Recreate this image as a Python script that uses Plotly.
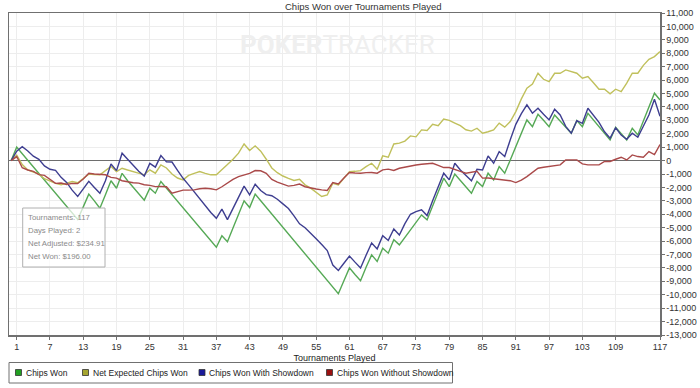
import plotly.graph_objects as go

tournaments = list(range(0, 118))

chips_won = [0, 1000, 510, 20, -470, -960, -1450, -1940, -2430, -2920, -3410, -3900, -4390, -3450, -2500,
             -3000, -3550, -2550, -1500, -2060, -950, -1500, -1990, -2480, -2950, -2060, -2430, -1560,
             -2050, -2540, -3030, -3520, -4010, -4500, -4990, -5480, -5970, -6460, -5600, -6050, -5030,
             -4020, -3000, -3500, -2500, -2995, -3490, -3985, -4480, -4975, -5470, -5965, -6460, -6955,
             -7450, -7945, -8440, -8935, -9430, -9925, -8950, -8000, -8490, -8950, -7950, -7030, -7520,
             -6530, -6900, -5900, -6280, -5700, -5160, -4620, -4050, -4420, -3380, -2350, -1310, -1940,
             -1000, -1490, -1980, -2430, -1560, -1940, -940, -1440, -450, -940, 50, 1050, 2050, 3030,
             2530, 3460, 3000, 2530, 3400, 2950, 2500, 2040, 2980, 2530, 3530, 3030, 2530, 2040, 1540,
             2490, 2010, 1540, 2410, 1910, 2950, 4000, 5020, 4520]

net_expected = [0, 400, -300, -700, -850, -1000, -1350, -1550, -1700, -1810, -1700, -1560, -1650, -1350,
                -1010, -1050, -1060, -750, -440, -820, -570, -700, -820, -950, -1060, -690, -940, -320,
                -550, -1000, -1300, -1440, -1100, -950, -820, -950, -1060, -1060, -700, -300, 100, 550,
                1240, 750, 1100, 700, 100, -550, -900, -1150, -1330, -1480, -1400, -1810, -2050, -2350,
                -2680, -2560, -1690, -1810, -1300, -820, -800, -750, -450, -200, -640, 350, 250, 1240,
                1300, 1450, 1840, 1770, 2290, 2250, 2700, 2600, 3100, 3000, 2800, 2600, 2300, 2200, 2410,
                2040, 2150, 2290, 2790, 2490, 2910, 3650, 4600, 5400, 5700, 6510, 6060, 5890, 6510, 6510,
                6760, 6630, 6510, 6140, 6260, 5800, 5320, 5320, 4970, 5320, 5140, 5770, 6510, 6510, 7100,
                7550, 7750, 8120]

with_showdown = [0, 700, 1040, 720, 330, 90, -400, -650, -730, -1250, -1630, -2200, -2670, -2070, -1550,
                 -2000, -2430, -1500, -250, -750, 550, 100, -340, -800, -1150, -210, -490, 370, -100,
                 -110, -730, -1320, -1810, -2320, -2890, -3420, -3870, -4300, -3620, -4400, -3550, -2700,
                 -1900, -2550, -1760, -2235, -2540, -2620, -2880, -3225, -3570, -4115, -4710, -5005,
                 -5390, -5825, -6260, -6705, -7790, -8185, -7650, -7110, -7570, -8010, -7050, -6140,
                 -6580, -5600, -5950, -5100, -5550, -4700, -4000, -3800, -3670, -4100, -3000, -1950,
                 -940, -1440, -200, -700, -1100, -1500, -650, -700, 350, -200, 670, 300, 1550, 2700,
                 3500, 4150, 3530, 3900, 3450, 3030, 3830, 3400, 2550, 2040, 2980, 2780, 3900, 3350,
                 2850, 2150, 1670, 2450, 1900, 1590, 2040, 1740, 2600, 3400, 4570, 3300]

without_showdown = [0, 300, -530, -700, -800, -1050, -1100, -1400, -1700, -1670, -1780, -1700, -1720,
                    -1380, -950, -1000, -1010, -1060, -1250, -1310, -1500, -1600, -1650, -1680, -1800,
                    -1850, -1940, -1930, -1950, -2430, -2300, -2200, -2200, -2180, -2100, -2060, -2100,
                    -2180, -1950, -1650, -1400, -1190, -1050, -950, -740, -760, -950, -1400, -1600,
                    -1750, -1900, -1850, -1750, -1950, -2060, -2120, -2180, -2230, -1640, -1740, -1300,
                    -890, -920, -940, -900, -890, -940, -690, -640, -740, -570, -480, -390, -330, -270,
                    -240, -200, -350, -520, -520, -690, -800, -940, -850, -800, -1310, -1300, -1350,
                    -1390, -1450, -1500, -1640, -1450, -1190, -900, -570, -500, -450, -400, -320, 50, 50,
                    50, -250, -320, -320, -320, -70, -70, 100, 250, 50, 420, 300, 250, 670, 450, 1200]

x_ticks = [1, 7, 13, 19, 25, 31, 37, 43, 49, 55, 61, 67, 73, 79, 85, 91, 97, 103, 109, 117]
y_ticks = list(range(-13000, 12000, 1000))
y_tick_text = [("-" if v < 0 else "") + f"{abs(v):,}" for v in y_ticks]

series_names = ["Chips Won", "Net Expected Chips Won", "Chips Won With Showdown", "Chips Won Without Showdown"]
line_colors = ["#56a956", "#c0c05c", "#3e3e90", "#aa4a4a"]
legend_colors = ["#22a022", "#a6a630", "#1a1a9a", "#9a1010"]

tooltip_lines = ["Tournaments: 117", "Days Played: 2", "Net Adjusted: $234.91", "Net Won: $196.00"]

FONT = "Liberation Sans, Arial, sans-serif"

fig = go.Figure()
for name, vals, col in zip(series_names, [chips_won, net_expected, with_showdown, without_showdown], line_colors):
    fig.add_trace(go.Scatter(x=tournaments, y=vals, mode="lines", name=name,
                             line=dict(color=col, width=1.4), showlegend=False, hoverinfo="skip"))

L, R, T, B = 9, 40, 13, 53
W, H = 700, 388
pw, ph = W - L - R, H - T - B


def px(xp):
    return (xp - L) / pw


def py(yp):
    return (H - B - yp) / ph


shapes = []
annotations = []

# legend box
shapes.append(dict(type="rect", xref="paper", yref="paper", x0=px(9), x1=px(452.5), y0=py(383), y1=py(362.5),
                   line=dict(color="#707070", width=1), fillcolor="white"))
leg_sq_x = [15.5, 82.5, 199, 326.5]
leg_txt_x = [23.5, 90.5, 207, 334.5]
for sx, tx, name, col in zip(leg_sq_x, leg_txt_x, series_names, legend_colors):
    shapes.append(dict(type="rect", xref="paper", yref="paper", x0=px(sx), x1=px(sx + 6),
                       y0=py(375.5), y1=py(369.5), line=dict(color="#333333", width=0.8), fillcolor=col))
    annotations.append(dict(text=name, xref="paper", yref="paper", x=px(tx), y=py(372.5),
                            xanchor="left", yanchor="middle", showarrow=False,
                            font=dict(family=FONT, size=8.5, color="#222222")))

# title
annotations.append(dict(text="Chips Won over Tournaments Played", xref="paper", yref="paper",
                        x=px(363), y=py(6.5), xanchor="center", yanchor="middle", showarrow=False,
                        font=dict(family=FONT, size=9.5, color="#333333")))
# watermark
annotations.append(dict(text="<b>POKER</b>TRACKER", xref="paper", yref="paper",
                        x=px(337), y=py(45), xanchor="center", yanchor="middle", showarrow=False,
                        font=dict(family="Roboto, Liberation Sans, sans-serif", size=26, color="#efefef")))
# tooltip box and lines
shapes.append(dict(type="rect", xref="paper", yref="paper", x0=px(22.7), x1=px(105), y0=py(267), y1=py(208),
                   line=dict(color="#b0b0b0", width=1), fillcolor="rgba(255,255,255,0.72)", layer="above"))
for i, line in enumerate(tooltip_lines):
    annotations.append(dict(text=line, xref="paper", yref="paper", x=px(26), y=py(217.5 + 13 * i),
                            xanchor="left", yanchor="middle", showarrow=False,
                            font=dict(family=FONT, size=7.8, color="#8a8a8a")))

fig.update_layout(
    width=W, height=H, margin=dict(l=L, r=R, t=T, b=B, autoexpand=False),
    paper_bgcolor="white", plot_bgcolor="white",
    shapes=shapes, annotations=annotations, showlegend=False, hovermode=False,
    font=dict(family=FONT, size=9, color="#333333"),
    xaxis=dict(range=[-0.39, 117], tickvals=x_ticks, ticktext=[str(v) for v in x_ticks],
               showgrid=True, gridcolor="#ededed", gridwidth=1, zeroline=False,
               showline=True, linecolor="#707070", linewidth=1.5, mirror=True,
               ticks="outside", ticklen=3, tickcolor="#707070", automargin=False,
               title=dict(text="Tournaments Played", font=dict(family=FONT, size=9, color="#222222"), standoff=3),
               tickfont=dict(family=FONT, size=9, color="#333333")),
    yaxis=dict(range=[-13000, 11000], side="right", tickvals=y_ticks, ticktext=y_tick_text,
               showgrid=True, gridcolor="#ededed", gridwidth=1, automargin=False,
               zeroline=True, zerolinecolor="#6e6e6e", zerolinewidth=1.5,
               showline=True, linecolor="#707070", linewidth=1.5, mirror=True,
               ticks="outside", ticklen=3, tickcolor="#707070",
               tickfont=dict(family=FONT, size=9, color="#333333")),
)

fig.write_html("out.html", config={"displayModeBar": False, "staticPlot": True},
               post_script="document.body.style.margin='0';document.body.style.padding='0';")
